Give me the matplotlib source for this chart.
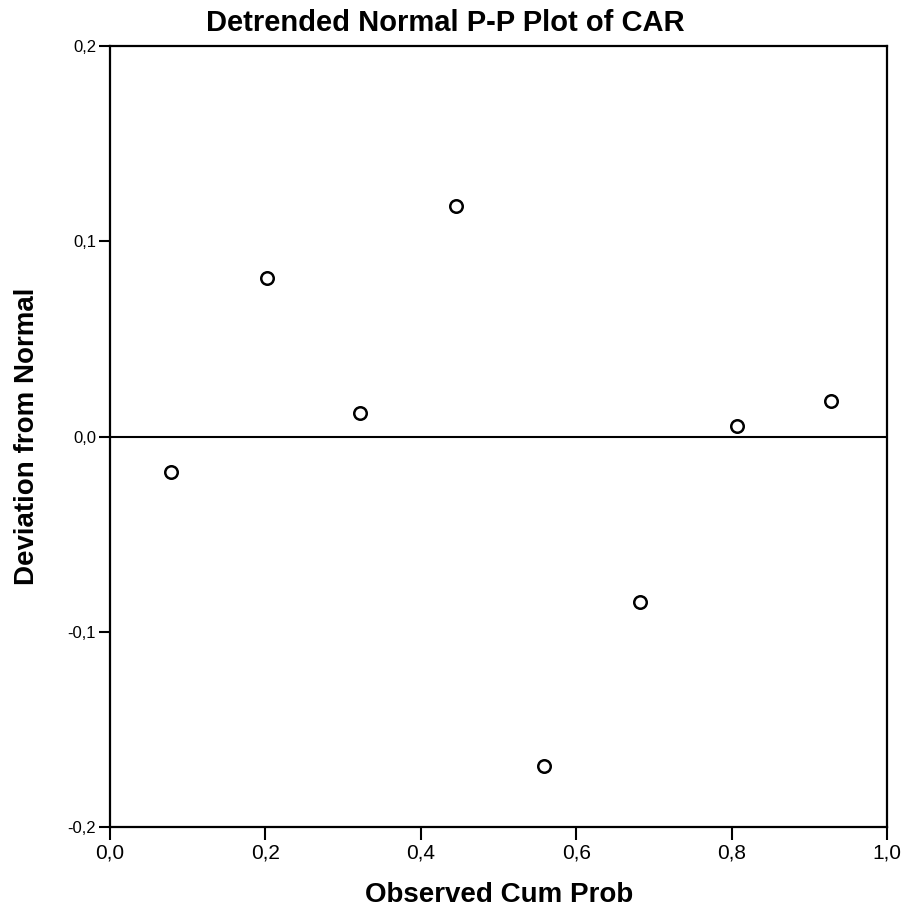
import matplotlib
matplotlib.use('Agg')
from matplotlib import pyplot as plt
from matplotlib.ticker import FuncFormatter

# 观测累积概率
cum_prob = [0.078, 0.2015, 0.322, 0.445, 0.558, 0.682, 0.806, 0.928]
# 偏离正态的程度
deviation = [-0.018, 0.081, 0.0118, 0.118, -0.1685, -0.0845, 0.0056, 0.0184]

x_ticks = [0.0, 0.2, 0.4, 0.6, 0.8, 1.0]
y_ticks = [-0.2, -0.1, 0.0, 0.1, 0.2]

plt.rcParams['font.family'] = ['Liberation Sans', 'DejaVu Sans']

fig = plt.figure(figsize=(9.06, 9.18), dpi=100)
ax = fig.add_axes([0.1214, 0.099, 0.858, 0.851])

ax.axhline(0, color='black', linewidth=1.5, zorder=1)
ax.plot(cum_prob, deviation, 'o', markersize=9, markerfacecolor='white',
        markeredgecolor='black', markeredgewidth=1.8, zorder=2)

ax.set_xlim(0, 1)
ax.set_ylim(-0.2, 0.2)
ax.set_xticks(x_ticks)
ax.set_yticks(y_ticks)

# 逗号作小数点
comma = FuncFormatter(lambda v, p: ('%.1f' % v).replace('.', ','))
ax.xaxis.set_major_formatter(comma)
ax.yaxis.set_major_formatter(comma)
ax.tick_params(axis='x', labelsize=15, length=9, width=1.5, direction='out', pad=3)
ax.tick_params(axis='y', labelsize=12, length=8, width=1.5, direction='out', pad=2)

for s in ax.spines.values():
    s.set_linewidth(1.6)

# 标题居中于整张图
fig.text(0.491, 0.975, 'Detrended Normal P-P Plot of CAR', fontsize=21,
         fontweight='bold', ha='center', va='center')
ax.set_xlabel('Observed Cum Prob', fontsize=20, fontweight='bold', labelpad=14)
ax.set_ylabel('Deviation from Normal', fontsize=20, fontweight='bold', labelpad=20)

plt.savefig('out.png', dpi=100)
